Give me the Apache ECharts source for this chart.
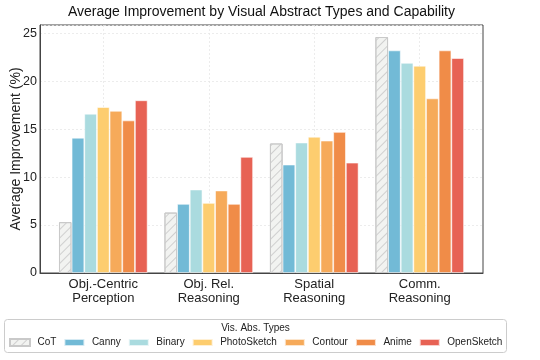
<!DOCTYPE html>
<html>
<head>
<meta charset="utf-8">
<script src="https://cdn.jsdelivr.net/npm/echarts@6/dist/echarts.min.js"></script>
<style>html,body{margin:0;padding:0;background:#fff}#c{width:540px;height:360px}</style>
</head>
<body>
<div id="c"></div>
<script>
const categories = ['Obj.-Centric\nPerception', 'Obj. Rel.\nReasoning', 'Spatial\nReasoning', 'Comm.\nReasoning'];
const seriesNames = ['CoT', 'Canny', 'Binary', 'PhotoSketch', 'Contour', 'Anime', 'OpenSketch'];
const cot = [5.3, 6.3, 13.5, 24.6];
const canny = [14.1, 7.2, 11.3, 23.2];
const binary = [16.6, 8.7, 13.6, 21.9];
const photoSketch = [17.3, 7.3, 14.2, 21.6];
const contour = [16.9, 8.6, 13.8, 18.2];
const anime = [15.9, 7.2, 14.7, 23.2];
const openSketch = [18.0, 12.1, 11.5, 22.4];
const yTicks = [0, 5, 10, 15, 20, 25];

const colors = ['#f2f3f1', '#72bad6', '#aadbdf', '#fdcd6f', '#f6aa5a', '#f08c48', '#e76254'];
const allValues = [cot, canny, binary, photoSketch, contour, anime, openSketch];
const FONT = 'Liberation Sans, Arial, Helvetica, sans-serif';

const series = seriesNames.map((name, i) => {
  const isCot = i === 0;
  return {
    name: name,
    type: 'bar',
    barWidth: 12.66,
    barGap: '0%',
    data: allValues[i].map((v, k) => [k, v]),
    itemStyle: isCot ? {
      color: colors[i],
      borderColor: '#c9c9c9',
      borderWidth: 1,
      decal: {
        symbol: 'rect',
        symbolSize: 1,
        dashArrayX: [1, 0],
        dashArrayY: [1, 5],
        rotation: -Math.PI / 4,
        color: '#cfcfcf'
      }
    } : {
      color: colors[i],
      borderColor: 'rgba(255,255,255,0.7)',
      borderWidth: 0.8
    },
    emphasis: { disabled: true }
  };
});

const chart = echarts.init(document.getElementById('c'), null, { renderer: 'canvas' });
chart.setOption({
  animation: false,
  textStyle: { fontFamily: FONT },
  grid: {
    left: 40, right: 57, top: 25, bottom: 87,
    outerBoundsMode: 'none',
    containLabel: false,
    show: true, borderColor: '#444', borderWidth: 1, backgroundColor: 'transparent'
  },
  xAxis: {
    type: 'value',
    min: -0.6,
    max: 3.6,
    axisLine: { show: true, onZero: false, lineStyle: { color: '#444', width: 1 } },
    axisTick: { show: false, customValues: [0, 1, 2, 3] },
    splitLine: { show: true, lineStyle: { color: '#e8e8e8', width: 0.8, type: [2, 2] } },
    axisLabel: {
      customValues: [0, 1, 2, 3],
      formatter: v => categories[Math.round(v)],
      fontSize: 13, lineHeight: 13.5, color: '#222', margin: 5, fontFamily: FONT
    }
  },
  yAxis: {
    type: 'value',
    min: 0,
    max: 25.85,
    interval: 5,
    name: 'Average Improvement (%)',
    nameLocation: 'middle',
    nameGap: 17,
    nameMoveOverlap: false,
    nameTextStyle: { fontSize: 14, color: '#222', fontFamily: FONT },
    axisLine: { show: true, onZero: false, lineStyle: { color: '#444', width: 1 } },
    axisTick: { show: false },
    splitLine: { show: true, lineStyle: { color: '#e8e8e8', width: 0.8, type: [2, 2] } },
    axisLabel: {
      customValues: yTicks,
      fontSize: 12.5, color: '#222', margin: 3, fontFamily: FONT
    }
  },
  legend: {
    data: seriesNames,
    left: 9,
    top: 337.5,
    padding: 0,
    icon: 'rect',
    itemWidth: 20,
    itemHeight: 7,
    itemGap: 7,
    selectedMode: false,
    textStyle: { fontSize: 10, color: '#222', fontFamily: FONT, padding: [0, 0, 0, 2.5] }
  },
  graphic: [
    {
      type: 'text', x: 261.5, y: 12,
      style: { text: 'Average Improvement by Visual Abstract Types and Capability', font: '14px ' + FONT, fill: '#111', textAlign: 'center', textVerticalAlign: 'middle' }
    },
    {
      type: 'rect', shape: { x: 4.5, y: 319.5, width: 502, height: 33, r: 3 },
      style: { fill: 'none', stroke: '#cccccc', lineWidth: 1 }, z: -1
    },
    {
      type: 'text', x: 255.5, y: 328.5,
      style: { text: 'Vis. Abs. Types', font: '10px ' + FONT, fill: '#222', textAlign: 'center', textVerticalAlign: 'middle' }
    }
  ],
  series: series
});
</script>
</body>
</html>
